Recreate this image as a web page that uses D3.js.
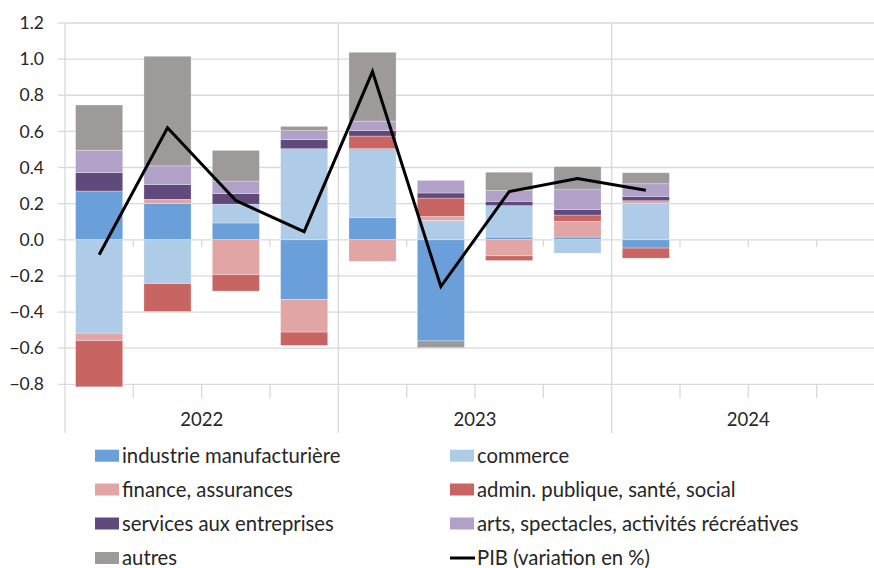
<!DOCTYPE html>
<html>
<head>
<meta charset="utf-8">
<script src="https://cdn.jsdelivr.net/npm/d3@7"></script>
<style>
  body { margin: 0; background: #fff; }
  text { font-family: Lato, "Open Sans", sans-serif; fill: #262626; }
</style>
</head>
<body>
<script>
// quarters on the axis (only the first 9 have data)
var quarters = ['2022T1','2022T2','2022T3','2022T4','2023T1','2023T2','2023T3','2023T4','2024T1','2024T2','2024T3','2024T4'];
var years = ['2022', '2023', '2024'];
var yTicks = [-0.8, -0.6, -0.4, -0.2, 0, 0.2, 0.4, 0.6, 0.8, 1.0, 1.2];

var seriesNames = ['industrie manufacturière', 'commerce', 'finance, assurances', 'admin. publique, santé, social',
                   'services aux entreprises', 'arts, spectacles, activités récréatives', 'autres'];
var seriesColors = ['#6A9FDA', '#AECBE7', '#E0A5A4', '#C86562', '#604A7B', '#B1A0C7', '#9D9A99'];

var industrie = [0.27, 0.20, 0.093, -0.33, 0.124, -0.56, 0.015, 0.015, -0.046];
var commerce  = [-0.517, -0.243, 0.104, 0.504, 0.38, 0.107, 0.174, -0.074, 0.201];
var finance   = [-0.041, 0.024, -0.193, -0.181, -0.119, 0.022, -0.089, 0.087, 0.015];
var admin     = [-0.256, -0.154, -0.091, -0.074, 0.07, 0.102, -0.026, 0.035, -0.056];
var services  = [0.102, 0.081, 0.059, 0.05, 0.031, 0.028, 0.024, 0.031, 0.024];
var arts      = [0.124, 0.104, 0.069, 0.05, 0.052, 0.07, 0.059, 0.109, 0.07];
var autres    = [0.25, 0.607, 0.17, 0.024, 0.381, -0.037, 0.102, 0.128, 0.061];
var pib       = [-0.083, 0.62, 0.217, 0.045, 0.931, -0.259, 0.267, 0.339, 0.274];

var allSeries = [industrie, commerce, finance, admin, services, arts, autres];

var W = 874, H = 568;
var pLeft = 65, pRight = 885, pTop = 23, pBottom = 384.3;

var svg = d3.select('body').append('svg')
  .attr('width', W)
  .attr('height', H);

var x = d3.scaleBand().domain(quarters).range([pLeft, pRight]).paddingInner(0.31).paddingOuter(0.155);
var xq = d3.scaleBand().domain(quarters).range([pLeft, pRight]);
var xy = d3.scaleBand().domain(years).range([pLeft, pRight]);
var y = d3.scaleLinear().domain([-0.8, 1.2]).range([pBottom, pTop]);

// table for d3.stack
var rows = pib.map(function(p, i) {
  var r = { q: quarters[i] };
  seriesNames.forEach(function(n, k) { r[n] = allSeries[k][i]; });
  return r;
});
var stacked = d3.stack().keys(seriesNames).offset(d3.stackOffsetDiverging)(rows);

// gridlines
svg.append('g').selectAll('line').data(yTicks).enter().append('line')
  .attr('x1', pLeft).attr('x2', pRight)
  .attr('y1', function(d) { return y(d); }).attr('y2', function(d) { return y(d); })
  .attr('stroke', '#D9D9D9').attr('stroke-width', 1.3);

// y tick marks + labels
svg.append('g').selectAll('line').data(yTicks).enter().append('line')
  .attr('x1', pLeft - 7).attr('x2', pLeft)
  .attr('y1', function(d) { return y(d); }).attr('y2', function(d) { return y(d); })
  .attr('stroke', '#D9D9D9').attr('stroke-width', 1.3);
svg.append('g').selectAll('text').data(yTicks).enter().append('text')
  .attr('x', 44).attr('y', function(d) { return y(d); })
  .attr('dy', '0.35em').attr('text-anchor', 'end')
  .style('font-size', '17.5px')
  .text(function(d) { return d3.format('.1f')(d); });

// left axis and year separators
var seps = [pLeft, xy('2023'), xy('2024')];
svg.append('g').selectAll('line').data(seps).enter().append('line')
  .attr('x1', function(d) { return d; }).attr('x2', function(d) { return d; })
  .attr('y1', pTop).attr('y2', 433)
  .attr('stroke', '#D9D9D9').attr('stroke-width', 1.3);

// quarter ticks at zero and at bottom
var qTicks = quarters.slice(1).filter(function(q) { return q.slice(4) !== 'T1'; });
svg.append('g').selectAll('line').data(qTicks).enter().append('line')
  .attr('x1', function(d) { return xq(d); }).attr('x2', function(d) { return xq(d); })
  .attr('y1', y(0)).attr('y2', y(0) + 7)
  .attr('stroke', '#D9D9D9').attr('stroke-width', 1.3);
svg.append('g').selectAll('line').data(qTicks).enter().append('line')
  .attr('x1', function(d) { return xq(d); }).attr('x2', function(d) { return xq(d); })
  .attr('y1', pBottom).attr('y2', pBottom + 14)
  .attr('stroke', '#D9D9D9').attr('stroke-width', 1.3);

svg.append('g').selectAll('text').data(years).enter().append('text')
  .attr('x', function(d) { return xy(d) + xy.bandwidth() / 2; })
  .attr('y', 420).attr('dy', '0.35em').attr('text-anchor', 'middle')
  .style('font-size', '18.5px')
  .text(function(d) { return d; });

// bars
svg.append('g').selectAll('g').data(stacked).enter().append('g')
  .attr('fill', function(d, i) { return seriesColors[i]; })
  .selectAll('rect').data(function(d) { return d; }).enter().append('rect')
    .attr('x', function(d) { return x(d.data.q); })
    .attr('width', x.bandwidth())
    .attr('y', function(d) { return y(Math.max(d[0], d[1])); })
    .attr('height', function(d) { return Math.abs(y(d[0]) - y(d[1])); })
    .attr('stroke', '#fff').attr('stroke-opacity', 0.5).attr('stroke-width', 0.6);

// PIB line
var line = d3.line()
  .x(function(d, i) { return xq(quarters[i]) + xq.bandwidth() / 2; })
  .y(function(d) { return y(d); });
svg.append('path').datum(pib)
  .attr('d', line)
  .attr('fill', 'none').attr('stroke', '#000').attr('stroke-width', 3)
  .attr('stroke-linejoin', 'miter');

// legend
var legendRows = [455.7, 489.5, 523.5, 558];
var legendCols = [95, 450];
var legendItems = seriesNames.map(function(n, i) { return { name: n, color: seriesColors[i] }; });
legendItems.push({ name: 'PIB (variation en %)', color: '#000', isLine: true });

var lg = svg.append('g').selectAll('g').data(legendItems).enter().append('g')
  .attr('transform', function(d, i) {
    return 'translate(' + legendCols[i % 2] + ',' + legendRows[Math.floor(i / 2)] + ')';
  });
lg.filter(function(d) { return !d.isLine; }).append('rect')
  .attr('x', 0).attr('y', -6).attr('width', 24).attr('height', 12)
  .attr('fill', function(d) { return d.color; });
lg.filter(function(d) { return d.isLine; }).append('line')
  .attr('x1', 0).attr('x2', 25).attr('y1', 0).attr('y2', 0)
  .attr('stroke', '#000').attr('stroke-width', 3);
lg.append('text')
  .attr('x', 27).attr('y', 0).attr('dy', '0.35em')
  .style('font-size', '20.3px')
  .text(function(d) { return d.name; });
</script>
</body>
</html>
